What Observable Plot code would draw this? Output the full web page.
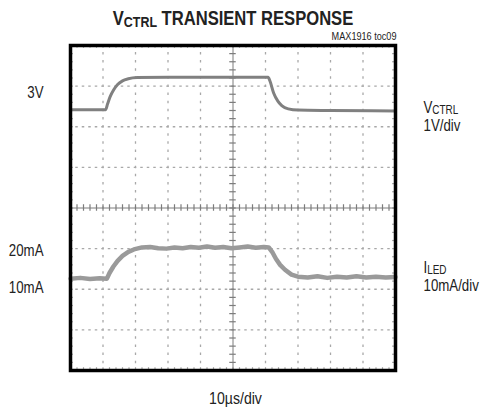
<!DOCTYPE html>
<html><head><meta charset="utf-8">
<script src="https://cdn.jsdelivr.net/npm/d3@7"></script>
<script src="https://cdn.jsdelivr.net/npm/@observablehq/plot@0.6"></script>
<style>html,body{margin:0;padding:0;background:#fff;}</style>
</head><body><div id="chart"></div>
<script>
const FONT = '"Liberation Sans", Arial, sans-serif';
const NARROW = 0.83; // horizontal squeeze to mimic a condensed face

// Time in screen divisions (10 µs/div), amplitude in screen divisions (centre line = 0)
const vctrlTime = [0, 0.5, 1.08, 1.14, 1.22, 1.33, 1.45, 1.6, 1.78, 2.05, 3, 4.5, 6.08, 6.14, 6.25, 6.38, 6.5, 6.7, 7.0, 8.0, 10];
const vctrlDiv  = [2.42, 2.42, 2.42, 2.56, 2.74, 2.91, 3.04, 3.13, 3.18, 3.21, 3.22, 3.22, 3.22, 3.12, 2.83, 2.63, 2.52, 2.44, 2.41, 2.40, 2.39];

const iledTime = [0, 0.3, 0.6, 0.9, 1.12, 1.2, 1.32, 1.45, 1.6, 1.78, 1.95, 2.2, 2.45, 2.7, 2.95, 3.2, 3.45, 3.7, 3.95, 4.2, 4.45, 4.7, 4.95, 5.2, 5.45, 5.7, 5.95, 6.1, 6.22, 6.32, 6.45, 6.6, 6.8, 7.0, 7.3, 7.6, 7.9, 8.2, 8.5, 8.8, 9.1, 9.4, 9.7, 10];
const iledDiv  = [-1.74, -1.72, -1.75, -1.73, -1.74, -1.6, -1.44, -1.3, -1.18, -1.08, -1.02, -0.97, -0.96, -0.99, -1.0, -0.97, -0.99, -0.96, -0.98, -0.95, -0.98, -0.96, -0.99, -0.97, -0.95, -0.98, -0.96, -0.97, -1.1, -1.25, -1.4, -1.52, -1.64, -1.69, -1.71, -1.68, -1.72, -1.69, -1.71, -1.68, -1.71, -1.69, -1.71, -1.70];

const leftLabels   = ["3V", "20mA", "10mA"];
const leftLabelDiv = [2.72, -1.17, -2.1];
const rightLabels   = ["V_{CTRL}", "1V/div", "I_{LED}", "10mA/div"];
const rightLabelDiv = [2.35, 1.89, -1.59, -2.04];
const titleText = "V_{CTRL} TRANSIENT RESPONSE";
const noteText = "MAX1916 toc09";
const xLabel = "10µs/div";

// graticule
const xMajor = [1, 2, 3, 4, 6, 7, 8, 9];
const yMajor = [-3, -2, -1, 1, 2, 3];
const xMinor = d3.range(0, 10.001, 0.2);
const yMinor = d3.range(-4, 4.001, 0.2);

const vctrl = vctrlTime.map((t, i) => ({t, v: vctrlDiv[i]}));
const iled = iledTime.map((t, i) => ({t, v: iledDiv[i]}));
const left = leftLabels.map((s, i) => ({s, y: leftLabelDiv[i]}));
const right = rightLabels.map((s, i) => ({s, y: rightLabelDiv[i]}));

const gridC = "#a8a8a8", centreC = "#7c7c7c";

const plot = Plot.plot({
  width: 486, height: 411,
  marginTop: 45, marginRight: 91, marginBottom: 41, marginLeft: 70,
  style: {fontFamily: FONT, background: "#fff", color: "#222"},
  x: {domain: [0, 10], axis: null},
  y: {domain: [-4, 4], axis: null},
  marks: [
    Plot.ruleY(yMajor, {stroke: gridC, strokeWidth: 1.3, strokeDasharray: "2.5,4", strokeDashoffset: 1.25}),
    Plot.ruleX(xMajor, {stroke: gridC, strokeWidth: 1.3, strokeDasharray: "2.5,5.625", strokeDashoffset: 1.25}),
    // edge ticks
    Plot.ruleX(xMinor, {x: d => d, y1: 4, y2: 3.93, stroke: gridC, strokeWidth: 1.2}),
    Plot.ruleX(xMinor, {x: d => d, y1: -4, y2: -3.93, stroke: gridC, strokeWidth: 1.2}),
    Plot.ruleY(yMinor, {y: d => d, x1: 0, x2: 0.09, stroke: gridC, strokeWidth: 1.2}),
    Plot.ruleY(yMinor, {y: d => d, x1: 10, x2: 9.91, stroke: gridC, strokeWidth: 1.2}),
    // centre cross with ticks
    Plot.ruleX([5], {stroke: centreC, strokeWidth: 1}),
    Plot.ruleY([0], {stroke: centreC, strokeWidth: 1}),
    Plot.ruleX(xMinor, {x: d => d, y1: -0.08, y2: 0.08, stroke: centreC, strokeWidth: 1.2}),
    Plot.ruleY(yMinor, {y: d => d, x1: 4.9, x2: 5.1, stroke: centreC, strokeWidth: 1.2}),
    // traces
    Plot.line(vctrl, {x: "t", y: "v", stroke: "#808080", strokeWidth: 3, curve: "monotone-x"}),
    Plot.line(iled, {x: "t", y: "v", stroke: "#9a9a9a", strokeWidth: 4.5, curve: "linear", strokeLinejoin: "round"}),
    Plot.frame({stroke: "#000", strokeWidth: 3.5}),
    // labels
    Plot.text(left, {y: "y", text: "s", frameAnchor: "left", dx: -27, textAnchor: "end", lineAnchor: "bottom", fontSize: 16}),
    Plot.text(right, {y: "y", text: "s", frameAnchor: "right", dx: 28, textAnchor: "start", lineAnchor: "bottom", fontSize: 16}),
    Plot.text([xLabel], {frameAnchor: "bottom", dx: 2.5, dy: 33, lineAnchor: "bottom", fontSize: 17}),
    Plot.text([titleText], {frameAnchor: "top", dx: 0, dy: -21, lineAnchor: "bottom", fontSize: 20, fontWeight: "bold"}),
    Plot.text([noteText], {frameAnchor: "top-right", dx: 1, dy: -6, textAnchor: "end", lineAnchor: "bottom", fontSize: 11})
  ]
});

d3.select(plot).selectAll("text").each(function () {
  // condensed look
  const tr = this.getAttribute("transform") || "";
  this.setAttribute("transform", `${tr} scale(${NARROW},1)`);
  // render "_{...}" as subscript tspans
  const s = this.textContent;
  const m = s.match(/^(.*?)_\{(.*?)\}(.*)$/);
  if (!m) return;
  const fs = parseFloat(this.getAttribute("font-size")) || parseFloat(this.parentNode.getAttribute("font-size")) || 16;
  this.textContent = "";
  const sel = d3.select(this);
  sel.append("tspan").text(m[1]);
  sel.append("tspan").attr("font-size", Math.round(fs * 0.76)).attr("dy", fs * 0.1).text(m[2]);
  if (m[3]) sel.append("tspan").attr("dy", -fs * 0.1).text(m[3]);
});

document.getElementById("chart").appendChild(plot);
</script>
</body></html>
